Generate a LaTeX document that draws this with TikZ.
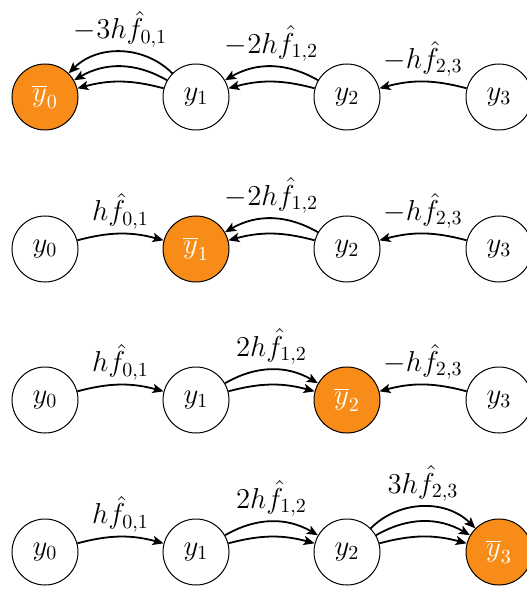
\documentclass[tikz,border=0pt]{standalone}
\usetikzlibrary{arrows.meta}
\definecolor{nodeorange}{RGB}{248,140,25}
\begin{document}
\begin{tikzpicture}[x=0.5pt,y=0.5pt,
  state/.style={circle,draw,line width=0.5pt,minimum size=33pt,inner sep=0pt,font=\Large},
  hot/.style={state,fill=nodeorange,text=white},
  arr/.style={line width=0.9pt,-{Stealth[length=5.5pt,width=4.6pt,inset=1.2pt]}},
  lab/.style={midway,above,font=\Large,inner sep=2pt}]
\useasboundingbox (0,0) rectangle (526,-592);
% row 1
\node[hot]   (a0) at (45,-97)  {$\overline{y}_0$};
\node[state] (a1) at (196,-97) {$y_1$};
\node[state] (a2) at (347,-97) {$y_2$};
\node[state] (a3) at (499,-97) {$y_3$};
\draw[arr] (a1) to[bend right=15] (a0);
\draw[arr] (a1) to[bend right=30] (a0);
\draw[arr] (a1) to[bend right=45] node[lab] {$-3h\hat{f}_{0,1}$} (a0);
\draw[arr] (a2) to[bend right=15] (a1);
\draw[arr] (a2) to[bend right=30] node[lab] {$-2h\hat{f}_{1,2}$} (a1);
\draw[arr] (a3) to[bend right=15] node[lab] {$-h\hat{f}_{2,3}$} (a2);
% row 2
\node[state] (b0) at (45,-249)  {$y_0$};
\node[hot]   (b1) at (196,-249) {$\overline{y}_1$};
\node[state] (b2) at (347,-249) {$y_2$};
\node[state] (b3) at (499,-249) {$y_3$};
\draw[arr] (b0) to[bend left=15] node[lab] {$h\hat{f}_{0,1}$} (b1);
\draw[arr] (b2) to[bend right=15] (b1);
\draw[arr] (b2) to[bend right=30] node[lab] {$-2h\hat{f}_{1,2}$} (b1);
\draw[arr] (b3) to[bend right=15] node[lab] {$-h\hat{f}_{2,3}$} (b2);
% row 3
\node[state] (c0) at (45,-400)  {$y_0$};
\node[state] (c1) at (196,-400) {$y_1$};
\node[hot]   (c2) at (347,-400) {$\overline{y}_2$};
\node[state] (c3) at (499,-400) {$y_3$};
\draw[arr] (c0) to[bend left=15] node[lab] {$h\hat{f}_{0,1}$} (c1);
\draw[arr] (c1) to[bend left=15] (c2);
\draw[arr] (c1) to[bend left=30] node[lab] {$2h\hat{f}_{1,2}$} (c2);
\draw[arr] (c3) to[bend right=15] node[lab] {$-h\hat{f}_{2,3}$} (c2);
% row 4
\node[state] (d0) at (45,-552)  {$y_0$};
\node[state] (d1) at (196,-552) {$y_1$};
\node[state] (d2) at (347,-552) {$y_2$};
\node[hot]   (d3) at (499,-552) {$\overline{y}_3$};
\draw[arr] (d0) to[bend left=15] node[lab] {$h\hat{f}_{0,1}$} (d1);
\draw[arr] (d1) to[bend left=15] (d2);
\draw[arr] (d1) to[bend left=30] node[lab] {$2h\hat{f}_{1,2}$} (d2);
\draw[arr] (d2) to[bend left=15] (d3);
\draw[arr] (d2) to[bend left=30] (d3);
\draw[arr] (d2) to[bend left=45] node[lab] {$3h\hat{f}_{2,3}$} (d3);
\end{tikzpicture}
\end{document}
